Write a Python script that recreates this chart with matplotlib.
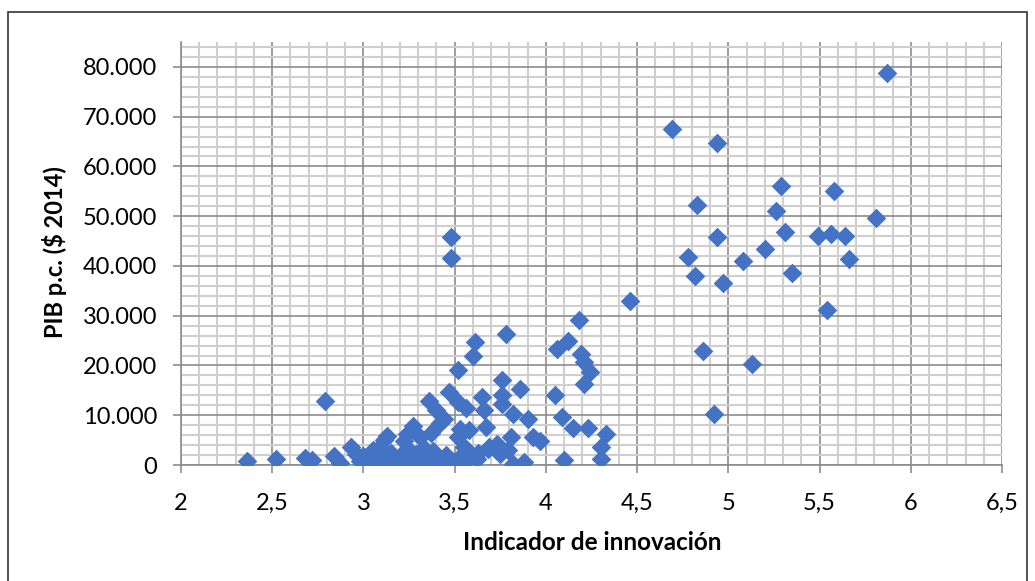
import matplotlib
matplotlib.use("Agg")
import matplotlib.pyplot as plt
from matplotlib.ticker import MultipleLocator, FuncFormatter
from matplotlib.patches import Rectangle

plt.rcParams['font.family'] = ['Lato', 'DejaVu Sans']

innovacion = [2.36, 2.52, 2.68, 2.72, 2.79, 2.84, 2.87, 2.93, 2.96, 2.98,
              3.00, 3.00, 3.02, 3.05, 3.07, 3.09, 3.11, 3.11, 3.13, 3.15,
              3.17, 3.20, 3.22, 3.24, 3.25, 3.26, 3.27, 3.29, 3.30, 3.31,
              3.33, 3.34, 3.36, 3.37, 3.38, 3.40, 3.40, 3.42, 3.44, 3.45,
              3.47, 3.48, 3.48, 3.48, 3.50, 3.52, 3.52, 3.52, 3.53, 3.53,
              3.55, 3.56, 3.57, 3.58, 3.60, 3.61, 3.62, 3.65, 3.66, 3.67,
              3.68, 3.69, 3.73, 3.75, 3.76, 3.76, 3.76, 3.78, 3.79, 3.81,
              3.82, 3.82, 3.86, 3.88, 3.90, 3.93, 3.97, 4.05, 4.06, 4.09,
              4.10, 4.12, 4.15, 4.18, 4.19, 4.21, 4.21, 4.23, 4.24, 4.30,
              4.30, 4.33, 4.46, 4.69, 4.78, 4.82, 4.83, 4.86, 4.92, 4.94,
              4.94, 4.97, 5.08, 5.13, 5.20, 5.26, 5.29, 5.31, 5.35, 5.49,
              5.54, 5.56, 5.58, 5.64, 5.66, 5.81, 5.87,
              3.03, 3.14, 3.19, 3.23, 3.28, 3.35, 3.43, 3.46, 3.55, 3.63]
pib = [900, 1200, 1400, 1000, 12900, 1900, 500, 3600, 2300, 800,
       1800, 200, 1500, 3000, 600, 3700, 5000, 1000, 5800, 2500,
       700, 1800, 4800, 6300, 3000, 1200, 7800, 2200, 500, 5600,
       3500, 1000, 12900, 6500, 2800, 11000, 400, 8500, 9300, 2000,
       14700, 41600, 45800, 1000, 600, 19000, 12700, 5700, 7300, 1700,
       3700, 11500, 3000, 7000, 22000, 24700, 1300, 13700, 11000, 7700,
       3300, 3600, 4300, 2300, 17000, 14000, 12300, 26300, 3000, 5700,
       10300, 300, 15300, 700, 9300, 5700, 4800, 14000, 23300, 9700,
       1000, 25000, 7500, 29200, 22300, 20700, 16300, 7500, 18700, 3700,
       1300, 6300, 33000, 67500, 41700, 38000, 52200, 23000, 10300, 64700,
       45800, 36500, 41000, 20300, 43500, 51000, 56000, 46900, 38500, 46000,
       31200, 46500, 55000, 46000, 41300, 49700, 78700,
       400, 300, 1200, 600, 900, 300, 500, 1100, 400, 2400]

x_ticks = [2, 2.5, 3, 3.5, 4, 4.5, 5, 5.5, 6, 6.5]
y_ticks = [0, 10000, 20000, 30000, 40000, 50000, 60000, 70000, 80000]

fig = plt.figure(figsize=(10.35, 5.81), dpi=100)
ax = fig.add_axes([181/1035, 1 - 465/581, (1002-181)/1035, (465-42)/581])

ax.scatter(innovacion, pib, marker='D', s=100, color='#4472C4', zorder=3,
           linewidths=0)

ax.set_xlim(2, 6.5)
ax.set_ylim(0, 85000)
ax.set_xticks(x_ticks)
ax.set_yticks(y_ticks)
ax.xaxis.set_minor_locator(MultipleLocator(0.1))
ax.yaxis.set_minor_locator(MultipleLocator(2000))
ax.grid(which='minor', color='#cfcfcf', linewidth=1.5, zorder=0)
ax.grid(which='major', color='#8c8c8c', linewidth=1.2, zorder=1)
ax.set_axisbelow(True)

for s in ['top', 'right']:
    ax.spines[s].set_visible(False)
for s in ['left', 'bottom']:
    ax.spines[s].set_color('#8c8c8c')
    ax.spines[s].set_linewidth(1.2)

ax.xaxis.set_major_formatter(FuncFormatter(lambda v, p: f"{v:g}".replace('.', ',')))
ax.yaxis.set_major_formatter(FuncFormatter(lambda v, p: f"{int(v):,}".replace(',', '.')))
ax.tick_params(which='major', direction='out', length=6, width=1.2, color='#8c8c8c',
               labelsize=17, labelcolor='black')
ax.tick_params(axis='y', pad=11)
ax.tick_params(axis='x', pad=14)
ax.tick_params(which='minor', length=0)

ax.set_xlabel('Indicador de innovación', fontsize=17.5, fontweight='bold')
ax.set_ylabel('PIB p.c. ($ 2014)', fontsize=17, fontweight='bold')
ax.xaxis.set_label_coords((592-181)/(1002-181), (465-542)/(465-42))
ax.yaxis.set_label_coords((54-181)/(1002-181), (465-252)/(465-42))
ax.xaxis.label.set_va('center')
ax.yaxis.label.set_va('center')

fig.patches.append(Rectangle((8/1035, -0.05), (1027-8)/1035, 1.05 - 12/581,
                             transform=fig.transFigure, fill=False,
                             edgecolor='#333333', linewidth=1.2))

fig.savefig('out.png', dpi=100)
